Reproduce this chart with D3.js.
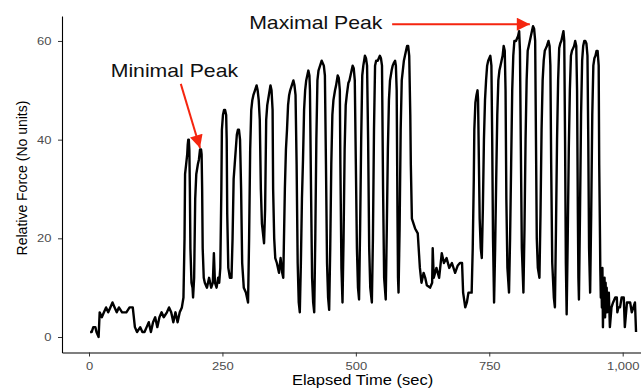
<!DOCTYPE html>
<html>
<head>
<meta charset="utf-8">
<script src="https://cdn.jsdelivr.net/npm/d3@7/dist/d3.min.js"></script>
<style>
  body { margin: 0; background: #fff; }
  text { font-family: "Liberation Sans", Arial, sans-serif; }
</style>
</head>
<body>
<svg id="vis"></svg>
<script>
// [elapsed time (sec), relative force], one array per stretch of the trial
const baseline = [
  [2, 1], [5, 1], [8, 2], [12, 2], [14, 1], [18, 0], [20, 5], [24, 4], [28, 5], [32, 6],
  [36, 5], [40, 6], [44, 7], [48, 6], [52, 5], [56, 6], [62, 5], [70, 5], [76, 6], [82, 6],
  [86, 2], [90, 1], [96, 2], [100, 1], [104, 1], [108, 2], [112, 3], [116, 1], [120, 3], [124, 4],
  [128, 2], [132, 4], [136, 5], [140, 4], [146, 5], [150, 6], [154, 5], [158, 3], [162, 5], [166, 3],
  [170, 5], [174, 6], [177, 8]
];
const firstBlock = [
  [179, 20], [180, 33], [182, 35], [184, 37], [185, 39], [186, 40], [187, 40], [188, 38], [189, 30], [190, 18],
  [192, 11], [194, 10], [195, 8], [197, 12], [199, 28], [201, 33], [204, 35], [206, 36], [208, 38], [210, 38],
  [211, 37], [212, 30], [213, 18], [215, 12], [217, 11], [221, 10], [225, 12], [229, 10], [232, 11], [234, 17],
  [236, 11], [239, 10], [242, 12], [244, 11], [246, 14], [248, 30], [249, 42], [251, 45], [253, 46], [255, 46],
  [257, 45], [258, 40], [259, 25], [261, 14], [264, 12], [267, 12], [269, 20], [271, 32], [273, 35], [275, 38],
  [277, 41], [279, 42], [281, 42], [283, 40], [285, 30], [287, 15], [290, 10], [294, 9], [298, 7], [300, 20],
  [302, 38], [304, 46], [306, 48], [308, 49], [311, 50], [314, 51], [316, 50], [318, 48], [320, 44], [322, 30],
  [324, 23], [326, 21], [328, 19], [330, 26], [332, 44], [334, 47], [337, 49], [340, 51], [342, 50], [344, 46],
  [345, 30], [347, 20], [349, 16], [352, 15], [356, 13], [359, 16], [362, 13], [364, 12], [365, 18], [367, 30],
  [369, 38], [371, 42], [373, 47], [375, 49], [377, 50], [380, 51], [383, 52], [385, 51], [387, 49], [389, 35],
  [391, 15], [393, 7], [395, 5], [397, 15], [399, 28], [401, 36], [403, 46], [405, 50], [407, 52], [409, 53],
  [411, 54], [413, 53], [414, 50], [416, 30], [418, 12], [420, 7], [422, 5], [424, 20], [426, 40], [428, 52],
  [430, 54], [433, 55], [436, 56], [438, 55.5], [440, 55], [442, 53], [444, 35], [446, 15], [448, 8], [450, 5.5],
  [452, 18], [454, 35], [456, 45], [458, 48], [461, 50], [463, 51], [466, 53], [468, 52.5], [470, 50], [471, 35],
  [473, 14], [475, 7], [477, 20], [479, 38], [481, 47], [483, 49], [486, 51.5], [488, 52], [490, 53], [492, 54],
  [494, 55], [496, 54.5], [498, 52], [500, 35], [502, 18], [504, 10], [506, 7.6], [508, 22], [510, 40], [512, 53],
  [514, 55], [517, 57], [519, 56.5], [521, 55], [523, 40], [525, 18], [527, 10], [530, 7], [532, 20], [534, 42],
  [536, 55], [538, 56], [541, 56], [543, 56.5], [545, 57], [547, 56.5], [549, 55], [551, 30], [553, 12], [556, 7.6],
  [558, 22], [560, 38], [562, 48], [564, 52], [567, 54], [569, 55], [571, 55.5], [573.5, 56], [575, 55], [576.5, 50],
  [578, 25], [579, 12], [580, 9], [582, 22], [584, 42], [586, 52], [588, 54], [590, 56], [592, 57], [594, 58],
  [596, 59], [598, 59], [600, 57], [602, 45], [603, 35], [605, 24]
];
const rest = [
  [611, 22], [616, 21], [620, 14], [623, 11], [627, 13], [630, 12], [633, 10.5], [639, 10], [643, 11], [644, 18],
  [646, 12], [651, 14], [656, 12], [661, 17], [665, 15], [670, 16], [675, 14], [680, 15], [686, 13], [691, 14.5],
  [695, 15], [699, 15], [701, 9], [705, 6], [708, 7], [711, 9], [717, 9]
];
const secondBlock = [
  [719, 18], [721, 32], [722, 42], [724, 47.5], [726, 49], [728, 50], [729, 48], [730, 40], [732, 24], [734, 18],
  [736, 16], [738, 26], [740, 40], [742, 48], [744, 52], [746, 55], [748, 56], [750, 56.5], [752, 57], [754, 55],
  [755.5, 40], [757, 20], [759, 7], [761, 18], [763, 32], [765, 45], [767, 52], [769, 54], [771, 55], [773, 56],
  [775, 57], [777, 59], [779, 58], [780.5, 50], [782, 28], [784, 14], [787, 9], [789, 20], [791, 35], [793, 50],
  [795, 57], [797, 60], [800, 60], [802, 60.5], [804, 61], [806, 62], [807.5, 58], [809, 40], [811, 18], [814, 9],
  [816, 22], [818, 40], [820, 52], [822, 58], [824, 59], [826, 60], [828, 61], [830, 62], [832, 63], [834, 62.5],
  [836, 60], [837.5, 40], [839, 20], [841, 14], [844, 12], [846, 25], [848, 42], [850, 52], [852, 56], [854, 58],
  [856, 58.5], [858, 59], [861, 60], [863, 59], [864.5, 55], [866, 35], [868, 15], [871, 8], [873, 6], [875, 22],
  [877, 40], [879, 52], [881, 58.5], [883, 59.5], [885, 60], [887, 61], [889, 62], [890.5, 60], [892, 40], [893.5, 15],
  [895, 4.6], [897, 20], [899, 38], [901, 50], [903, 57], [905, 58], [907, 58.5], [909, 59], [911, 60], [913, 59],
  [914.5, 50], [916, 25], [917, 12], [918, 7.6], [920, 25], [922, 45], [924, 56], [926, 59], [928, 60], [930, 60],
  [932, 59.5], [934, 57], [935.5, 40], [937, 18], [939, 9], [941, 25], [943, 45], [945, 55], [947, 56.5], [949, 57],
  [951, 58], [953, 58], [955, 55], [956, 35], [957.5, 20]
];
const tail = [
  [958, 14], [959, 8], [960, 12], [961, 6], [962, 14], [963, 2], [964, 10], [965, 5], [966, 12], [967, 4],
  [968, 11], [969, 6], [970, 10], [971, 5], [972, 9], [973, 7], [974, 9], [976, 2], [979, 6], [982, 7],
  [986, 8], [989, 8], [990, 5], [992, 6], [995, 6], [998, 8], [1002, 8], [1004, 2], [1008, 7], [1011, 7],
  [1014, 7], [1017, 5], [1020, 6], [1023, 7], [1025, 1]
];

const xTicks = [0, 250, 500, 750, 1000];
const yTicks = [0, 20, 40, 60];

// annotations, placed in data units
const minLabel = {text: "Minimal Peak", x: 160, y: 52.7};
const maxLabel = {text: "Maximal Peak", x: 425, y: 62.4};
const minArrow = {x1: 172, y1: 51.3, x2: 208, y2: 38.3};
const maxArrow = {x1: 568, y1: 63.4, x2: 826, y2: 63.4};

const width = 641, height = 390;
const sx = 1.18;   // the picture is a bit stretched sideways

const svg = d3.select("#vis").attr("width", width).attr("height", height);

const x = d3.scaleLinear().domain([-50.6, 1034.3]).range([62, 641]);
const y = d3.scaleLinear().domain([-3.14, 65.06]).range([352.5, 16]);

const data = [].concat(baseline, firstBlock, rest, secondBlock, tail)
  .map(d => ({t: d[0], v: d[1]}));

// x axis
const gx = svg.append("g")
  .attr("transform", "translate(0,352.5)")
  .call(d3.axisBottom(x).tickValues(xTicks).tickSize(4).tickPadding(5.5).tickSizeOuter(0));
gx.select(".domain").attr("stroke", "#000").attr("stroke-width", 1.1);
gx.selectAll(".tick line").attr("stroke", "#333");
gx.selectAll(".tick text")
  .attr("fill", "#4d4d4d").attr("font-size", 11)
  .attr("font-family", "Liberation Sans, Arial, sans-serif")
  .attr("transform", `scale(${sx},1)`);

// y axis
const gy = svg.append("g")
  .attr("transform", "translate(62,0)")
  .call(d3.axisLeft(y).tickValues(yTicks).tickSize(4).tickSizeOuter(0));
gy.select(".domain").attr("stroke", "#000").attr("stroke-width", 1.1);
gy.selectAll(".tick line").attr("stroke", "#333");
gy.selectAll(".tick text")
  .attr("fill", "#4d4d4d").attr("font-size", 11)
  .attr("font-family", "Liberation Sans, Arial, sans-serif")
  .attr("x", -8.9)
  .attr("transform", `scale(${sx},1)`);

// the force trace
svg.append("path")
  .datum(data)
  .attr("fill", "none")
  .attr("stroke", "#000")
  .attr("stroke-width", 2.4)
  .attr("stroke-linejoin", "round")
  .attr("d", d3.line().x(d => x(d.t)).y(d => y(d.v)));

// axis titles
svg.append("text")
  .attr("transform", `translate(362.5,385) scale(${sx},1)`)
  .attr("text-anchor", "middle")
  .attr("font-size", 14)
  .attr("fill", "#000")
  .text("Elapsed Time (sec)");

svg.append("text")
  .attr("transform", "translate(26.5,178) rotate(-90)")
  .attr("text-anchor", "middle")
  .attr("font-size", 14)
  .attr("fill", "#000")
  .text("Relative Force (No units)");

// annotations
const red = "#f5250f";
svg.append("defs").append("marker")
  .attr("id", "head")
  .attr("viewBox", "0 0 10 10")
  .attr("refX", 10).attr("refY", 5)
  .attr("markerUnits", "userSpaceOnUse")
  .attr("markerWidth", 14).attr("markerHeight", 13)
  .attr("orient", "auto")
  .append("path")
  .attr("d", "M0,0 L10,5 L0,10 Z")
  .attr("fill", red);

[minArrow, maxArrow].forEach(a => {
  svg.append("line")
    .attr("x1", x(a.x1)).attr("y1", y(a.y1))
    .attr("x2", x(a.x2)).attr("y2", y(a.y2))
    .attr("stroke", red)
    .attr("stroke-width", 2)
    .attr("marker-end", "url(#head)");
});

[minLabel, maxLabel].forEach(l => {
  svg.append("text")
    .attr("transform", `translate(${x(l.x)},${y(l.y)}) scale(${sx},1)`)
    .attr("text-anchor", "middle")
    .attr("font-size", 18)
    .attr("fill", "#111")
    .text(l.text);
});
</script>
</body>
</html>
